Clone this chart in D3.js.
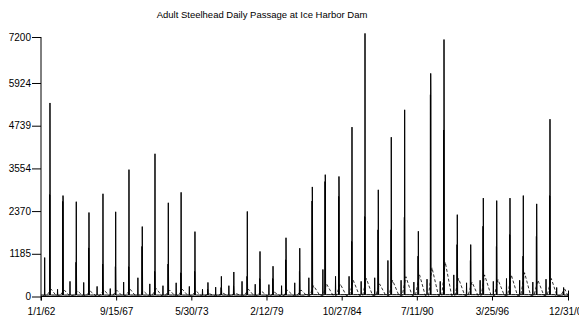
<!DOCTYPE html>
<html><head><meta charset="utf-8">
<script src="https://cdn.jsdelivr.net/npm/d3@7"></script>
<style>
body{margin:0;background:#fff}
text{font-family:"Liberation Sans",Arial,sans-serif;fill:#000}
</style>
</head><body>
<svg id="chart" width="579" height="317"></svg>
<script>
// ---- data ----
const title = "Adult Steelhead Daily Passage at Ice Harbor Dam";
const yTickValues = [0, 1185, 2370, 3554, 4739, 5924, 7200];
const yTickLabels = ["0", "1185", "2370", "3554", "4739", "5924", "7200"];
const xTickDates = ["1962-01-01","1967-09-15","1973-05-30","1979-02-12","1984-10-27","1990-07-11","1996-03-25","2001-12-31"];
const xTickLabels = ["1/1/62","9/15/67","5/30/73","2/12/79","10/27/84","7/11/90","3/25/96","12/31/01"];

const years = [1962,1963,1964,1965,1966,1967,1968,1969,1970,1971,1972,1973,1974,1975,1976,1977,1978,1979,1980,1981,
               1982,1983,1984,1985,1986,1987,1988,1989,1990,1991,1992,1993,1994,1995,1996,1997,1998,1999,2000,2001];
// fall run peak day of each year (MM-DD) and its daily count
const peakDays = ["09-07","09-03","09-05","08-23","09-15","09-02","09-05","09-08","08-27","08-31",
                  "08-20","09-08","09-03","09-10","08-20","08-29","08-16","08-12","08-06","08-22",
                  "08-05","07-30","08-13","08-09","08-05","08-08","08-02","08-08","08-22","07-31",
                  "08-03","08-06","08-13","07-28","08-03","08-06","08-10","08-16","08-19","09-01"];
const peakValues = [5370,2800,2630,2330,2850,2350,3520,1940,3960,2600,
                    2890,1800,390,560,680,2360,1250,840,1630,1340,
                    3040,3380,3330,4700,7300,2960,4420,5180,1810,6190,
                    7130,2270,1440,2730,2660,2730,2800,2570,4920,250];
// second-highest day next to the peak
const shoulderValues = [2830,2640,950,1350,900,830,830,1390,700,900,
                        660,700,200,250,300,560,500,500,1020,700,
                        2650,3190,2780,1530,2220,1850,1850,2200,1120,5600,
                        4620,1440,1000,1950,1390,1720,1120,1670,2800,150];
// smaller early-season spike
const springDays = ["04-13","04-05","03-15","03-30","04-05","04-05","04-10","05-10","04-05","04-05",
                    "04-05","04-05","04-05","04-05","04-05","04-05","04-05","04-20","04-05","04-05",
                    "05-01","05-25","05-10","05-20","04-20","05-01","05-01","05-01","04-20","04-20",
                    "04-20","05-01","04-20","05-01","05-01","05-01","05-01","05-01","05-01","02-20"];
const springValues = [1080,200,420,390,280,220,400,520,350,300,
                      380,280,200,260,300,420,340,330,300,380,
                      520,750,560,560,420,520,1000,450,400,480,
                      420,600,380,450,420,500,450,400,480,250];
// off-season daily level
const baseValues = [40,40,40,40,40,40,40,40,40,40,
                    40,40,40,40,40,40,40,40,40,40,
                    50,50,50,50,50,50,50,50,50,50,
                    50,50,50,50,50,50,50,50,50,40];
// dashed: smoothed (average) passage, seasonal high
const avgValues = [200,180,160,150,180,170,200,150,220,180,
                   200,150,80,100,100,200,150,120,180,180,
                   300,350,350,450,500,350,450,550,600,800,
                   950,500,400,600,470,600,660,450,500,200];
const avgLowValues = [20,20,20,20,20,20,20,20,20,20,
                      20,20,20,20,20,20,20,20,20,20,
                      30,30,30,30,30,30,30,30,30,30,
                      30,30,30,30,30,30,30,30,30,20];

// ---- chart ----
const svg = d3.select("#chart");
const parse = d3.timeParse("%Y-%m-%d");
const x = d3.scaleTime().domain([parse("1962-01-01"), parse("2001-12-31")]).range([41, 568]);
const y = d3.scaleLinear().domain([0, 7200]).range([296.5, 37]);
const day = (d, n) => d3.timeDay.offset(d, n);

const daily = [];
const avg = [];
years.forEach((yr, i) => {
  const b = baseValues[i];
  const sp = parse(yr + "-" + springDays[i]);
  const pk = parse(yr + "-" + peakDays[i]);
  daily.push([parse(yr + "-01-01"), b]);
  daily.push([day(sp, -6), b]);
  daily.push([sp, springValues[i]]);
  daily.push([day(sp, 6), b]);
  daily.push([day(pk, -30), b]);
  daily.push([day(pk, -12), b]);
  daily.push([day(pk, -8), shoulderValues[i]]);
  daily.push([day(pk, -4), b]);
  daily.push([pk, peakValues[i]]);
  daily.push([day(pk, 4), shoulderValues[i]]);
  daily.push([day(pk, 10), b]);
  daily.push([day(pk, 40), b]);
  daily.push([parse(yr + "-12-31"), b]);

  avg.push([parse(yr + "-03-01"), avgLowValues[i]]);
  avg.push([parse(yr + "-06-01"), avgLowValues[i]]);
  avg.push([day(pk, 35), avgValues[i]]);
});
avg.push([parse("2001-12-31"), avgLowValues[avgLowValues.length - 1]]);

const line = d3.line().x(d => x(d[0])).y(d => y(d[1]));

svg.append("path").datum(avg)
  .attr("d", line).attr("fill", "none")
  .attr("stroke", "#000").attr("stroke-width", 0.8).attr("stroke-dasharray", "3,2");

svg.append("path").datum(daily)
  .attr("d", line).attr("fill", "none")
  .attr("stroke", "#000").attr("stroke-width", 1);

// title
svg.append("text").attr("x", 262).attr("y", 18).attr("text-anchor", "middle")
  .style("font-size", "9.5px").text(title);

// y axis
const yAxis = svg.append("g").attr("transform", "translate(41,0)")
  .call(d3.axisLeft(y).tickValues(yTickValues).tickSize(9).tickPadding(1)
        .tickFormat((d, i) => yTickLabels[i]));
yAxis.select(".domain").attr("d", "M0," + y(7200) + "V" + (y(0) + 4)).attr("stroke", "#000");
yAxis.selectAll("text").style("font-size", "10px").style("font-family", '"Liberation Sans",Arial,sans-serif');
yAxis.selectAll("line").attr("stroke", "#000");

// x axis
const xAxis = svg.append("g").attr("transform", "translate(0," + y(0) + ")")
  .call(d3.axisBottom(x).tickValues(xTickDates.map(parse)).tickSize(4).tickPadding(7)
        .tickFormat((d, i) => xTickLabels[i]));
xAxis.select(".domain").attr("d", "M41,0H568").attr("stroke", "#000");
xAxis.selectAll("text").style("font-size", "10px").style("font-family", '"Liberation Sans",Arial,sans-serif');
xAxis.selectAll("line").attr("stroke", "#000");
xAxis.selectAll(".tick").filter((d, i) => i === xTickDates.length - 1)
  .select("line").attr("y1", -6);
</script>
</body></html>
